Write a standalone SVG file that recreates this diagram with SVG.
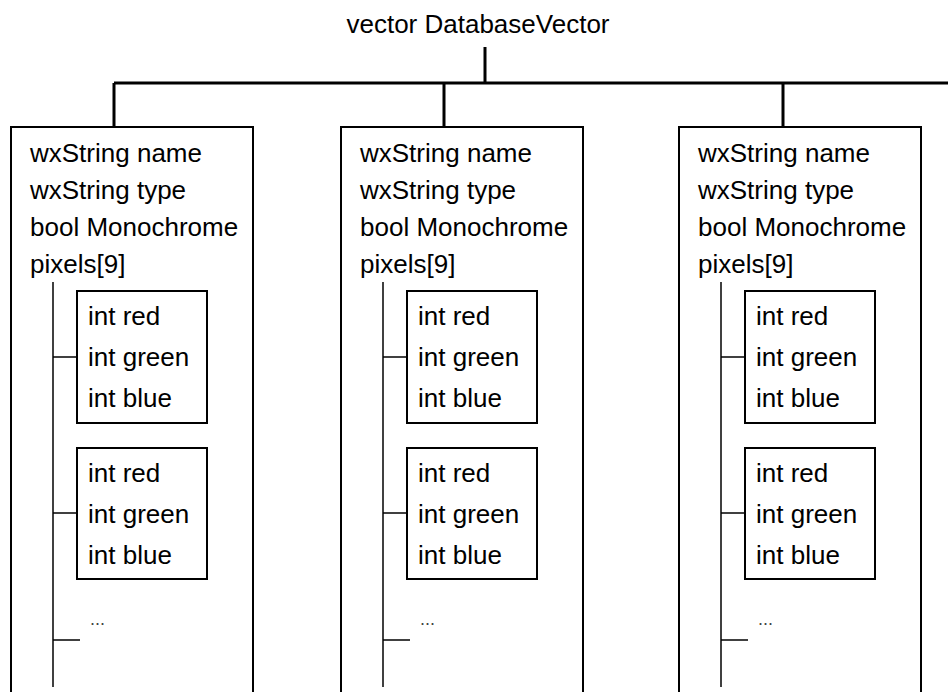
<svg xmlns="http://www.w3.org/2000/svg" width="948" height="692" viewBox="0 0 948 692">
<defs>
<style>
text { font-family: "Liberation Sans", Arial, sans-serif; font-size: 26px; fill: #000; }
.dots { font-size: 18px; fill: #444; }
.outer { fill: #fff; stroke: #000; stroke-width: 2; }
.inner { fill: #fff; stroke: #000; stroke-width: 2; }
.conn { stroke: #000; stroke-width: 3; fill: none; }
.sub { stroke: #000; stroke-width: 1.5; fill: none; }
</style>
<g id="struct">
  <rect class="outer" x="0" y="0" width="242" height="580"/>
  <text x="19" y="35">wxString name</text>
  <text x="19" y="72">wxString type</text>
  <text x="19" y="109">bool Monochrome</text>
  <text x="19" y="146">pixels[9]</text>
  <line class="sub" x1="42" y1="155" x2="42" y2="560"/>
  <line class="sub" x1="42" y1="230" x2="66" y2="230"/>
  <rect class="inner" x="66" y="164" width="130" height="132"/>
  <text x="77" y="198">int red</text>
  <text x="77" y="239">int green</text>
  <text x="77" y="280">int blue</text>
  <line class="sub" x1="42" y1="386" x2="66" y2="386"/>
  <rect class="inner" x="66" y="321" width="130" height="131"/>
  <text x="77" y="355">int red</text>
  <text x="77" y="396">int green</text>
  <text x="77" y="437">int blue</text>
  <line class="sub" x1="42" y1="513" x2="69" y2="513"/>
  <text class="dots" x="79" y="498">...</text>
</g>
</defs>
<g id="title">
  <text x="478" y="33" text-anchor="middle">vector DatabaseVector</text>
</g>
<g id="connectors">
  <path class="conn" d="M485 47 V83 M114 83 H948 M114 83 V127 M444 83 V127 M783 83 V127"/>
</g>
<g id="node1"><use href="#struct" x="11" y="127"/></g>
<g id="node2"><use href="#struct" x="341" y="127"/></g>
<g id="node3"><use href="#struct" x="679" y="127"/></g>
</svg>
